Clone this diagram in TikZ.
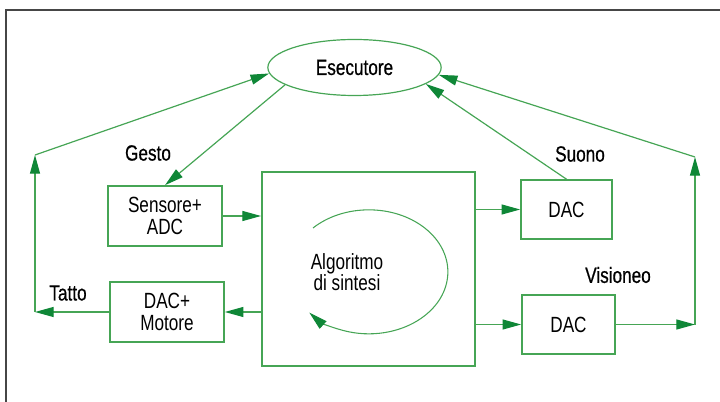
\documentclass[tikz,border=0pt]{standalone}
\usepackage{fontspec}
\setmainfont{Liberation Sans}[FakeStretch=0.78]
\newfontfamily\tagfont{Liberation Sans}[FakeStretch=0.78, FakeBold=0.6]
\usepackage{tikz}
\usetikzlibrary{shapes.geometric, arrows.meta, positioning}
\definecolor{mygreen}{RGB}{70,165,85}
\definecolor{mydarkgreen}{RGB}{15,135,55}
\definecolor{myframe}{RGB}{70,70,70}
\tikzstyle{box} = [rectangle, draw=mygreen, line width=1.2pt, align=center, font=\fontsize{16.5}{16}\selectfont]
\tikzstyle{tag} = [font=\fontsize{16.5}{16}\selectfont\tagfont]
\tikzstyle{arrow} = [draw=mygreen, line width=0.9pt, -{Triangle[length=14pt,width=7.5pt,color=mydarkgreen]}]

\begin{document}
\begin{tikzpicture}[x=0.75pt,y=-0.75pt]
    \useasboundingbox (0,0) rectangle (720,402);
    \draw[myframe, line width=1.2pt] (6,402) -- (6,10) -- (720,10);
    \node[ellipse, draw=mygreen, line width=0.9pt, minimum width=130pt, minimum height=42pt, tag] (exec) at (354.5,67.5) {Esecutore};
    \node[box, minimum width=85.5pt, minimum height=45pt] (sens) at (165,216) {Sensore+\\ADC};
    \node[box, minimum width=85.5pt, minimum height=45pt] (mot) at (167,312) {DAC+\\Motore};
    \node[box, minimum width=160pt, minimum height=145.5pt] (alg) at (368.5,269) {};
    \node[box, minimum width=68.25pt, minimum height=44.25pt] (dac1) at (566.5,209.5) {DAC};
    \node[box, minimum width=69.75pt, minimum height=44.25pt] (dac2) at (568.5,324.5) {DAC};
    \node[align=center, font=\fontsize{16.5}{16}\selectfont] (algtxt) at (347,272) {Algoritmo\\di sintesi};
    \foreach \n/\p/\t in {gesto/{(148,153)}/Gesto, tatto/{(68,293)}/Tatto, suono/{(580,154)}/Suono, vis/{(618,275)}/Visioneo}
        \node[tag] (\n) at \p {\t};
    \coordinate (lbot) at (35,312);
    \coordinate (ltop) at (35,155);
    \coordinate (rbot) at (695,324.5);
    \coordinate (rtop) at (695,157);
    \draw[arrow] (sens.east) -- (sens.east -| alg.west);
    \draw[arrow] (mot.east -| alg.west) -- (mot.east);
    \draw[arrow] (dac1.west -| alg.east) -- (dac1.west);
    \draw[arrow] (dac2.west -| alg.east) -- (dac2.west);
    \draw[arrow] (dac2.east) -- (rbot);
    \draw[arrow] (rbot) -- (rtop);
    \draw[arrow] (rtop) -- (exec.355);
    \draw[arrow] (mot.west) -- (lbot);
    \draw[arrow] (lbot) -- (ltop);
    \draw[arrow] (ltop) -- (exec.184);
    \draw[arrow] (exec.194) -- (sens.north);
    \draw[arrow] (dac1.north) -- (exec.347);
    \draw[arrow, line width=0.8pt] (313,228) arc[start angle=135, end angle=-139, x radius=59.25pt, y radius=46.5pt];
\end{tikzpicture}
\end{document}
